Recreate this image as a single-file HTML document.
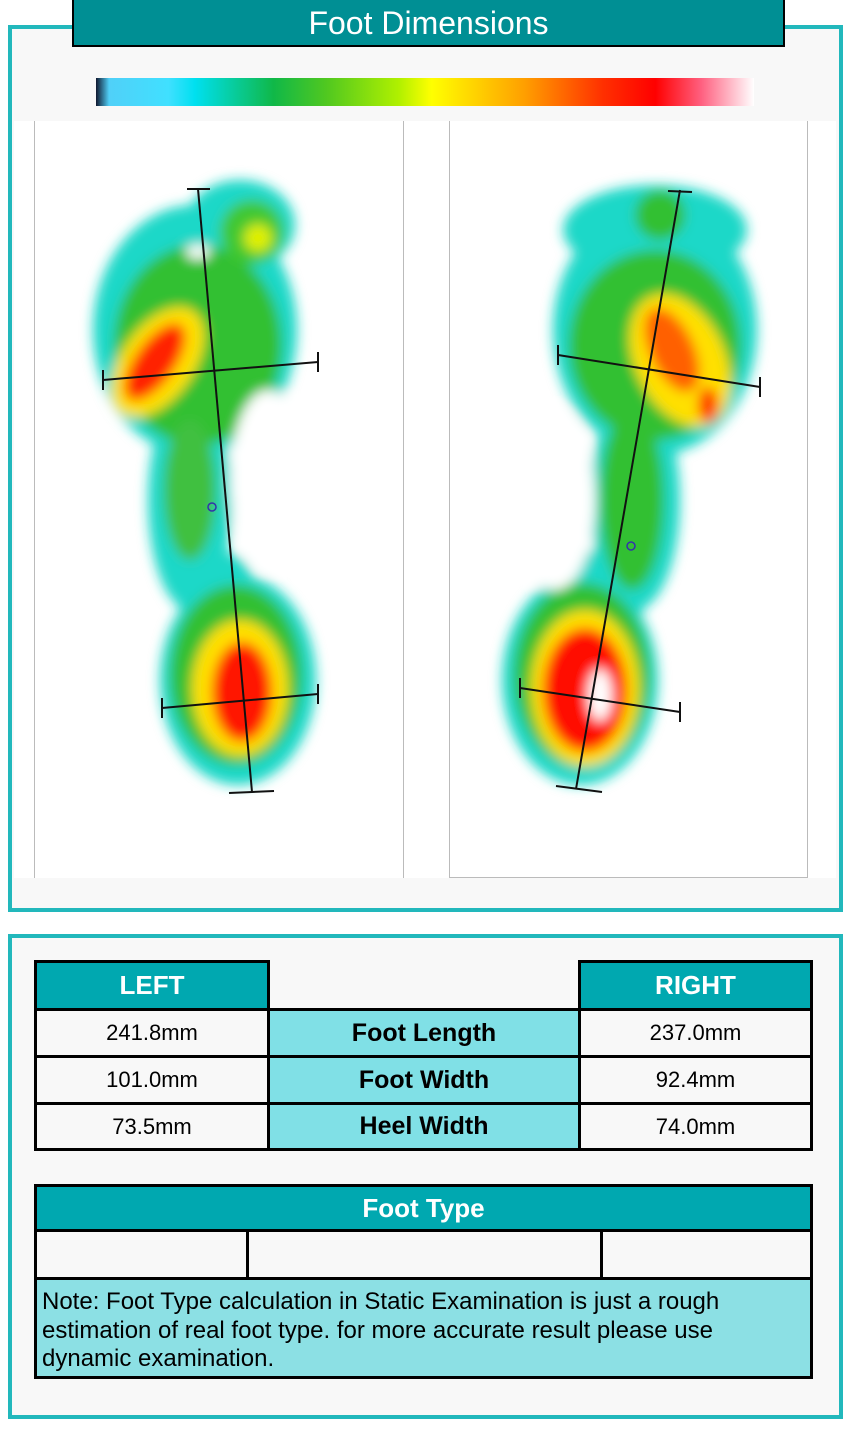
<!DOCTYPE html>
<html><head><meta charset="utf-8"><style>
body{margin:0;width:850px;height:1432px;background:#fff;position:relative;overflow:hidden;font-family:"Liberation Sans",sans-serif}
.abs{position:absolute;box-sizing:border-box}
.cell{position:absolute;box-sizing:border-box;border:3px solid #000;display:flex;align-items:center;justify-content:center;font-size:22px}
.hd{background:#00a8b0;color:#fff;font-weight:bold;font-size:26px}
.lb{background:#80e0e6;font-weight:bold;font-size:25px}
.vl{background:#f8f8f8}
</style></head><body>
<div class="abs" style="left:8px;top:25px;width:835px;height:887px;border:4px solid #22b8bc;background:#f8f8f8"></div>
<div class="abs" style="left:72px;top:-2px;width:713px;height:49px;background:#008f94;border:2px solid #000;color:#fff;font-size:32px;text-align:center;line-height:46px">Foot Dimensions</div>
<div class="abs" style="left:96px;top:78px;width:658px;height:28px;background:linear-gradient(90deg,#101830 0%,#50d0f8 2%,#40e0ff 11%,#00e0f0 15%,#10b848 27%,#50c820 35%,#b0f000 46%,#ffff00 51%,#ffa000 65%,#ff3000 77%,#ff0000 85%,#ff6080 92%,#fff 100%)"></div>
<div class="abs" style="left:14px;top:121px;width:822px;height:757px;background:#fff"></div>
<div class="abs" style="left:34px;top:121px;width:1px;height:757px;background:#bbb"></div>
<div class="abs" style="left:403px;top:121px;width:1px;height:757px;background:#bbb"></div>
<div class="abs" style="left:449px;top:121px;width:359px;height:757px;border:1px solid #bbb;border-top:none"></div>
<svg class="abs" style="left:0;top:0" width="850" height="912">
<defs><filter id="b" x="-30%" y="-30%" width="160%" height="160%"><feGaussianBlur stdDeviation="6"/></filter></defs>
<g filter="url(#b)">
<ellipse cx="195" cy="330" rx="102" ry="125" fill="#1ad8c8"/><ellipse cx="240" cy="225" rx="55" ry="45" fill="#1ad8c8"/>
<ellipse cx="190" cy="500" rx="42" ry="110" fill="#1ad8c8"/><ellipse cx="215" cy="590" rx="40" ry="40" fill="#1ad8c8"/><ellipse cx="238" cy="680" rx="78" ry="105" fill="#1ad8c8"/>
<ellipse cx="198" cy="345" rx="84" ry="100" fill="#30c030"/><ellipse cx="252" cy="232" rx="32" ry="32" fill="#40c830"/>
<ellipse cx="190" cy="490" rx="26" ry="70" fill="#40c040"/><ellipse cx="236" cy="675" rx="66" ry="90" fill="#30c030"/>
<ellipse cx="258" cy="238" rx="14" ry="14" fill="#e0f000"/>
<ellipse cx="158" cy="362" rx="36" ry="62" transform="rotate(35 158 362)" fill="#ffe000"/>
<ellipse cx="240" cy="688" rx="48" ry="68" fill="#ffe000"/>
<ellipse cx="155" cy="362" rx="20" ry="45" transform="rotate(35 155 362)" fill="#ff2000"/>
<ellipse cx="242" cy="692" rx="30" ry="50" fill="#ff1800"/>
<ellipse cx="198" cy="252" rx="12" ry="7" fill="#fff"/>
<ellipse cx="268" cy="480" rx="38" ry="90" fill="#fff"/>
</g>
<g filter="url(#b)">
<ellipse cx="655" cy="330" rx="102" ry="125" fill="#1ad8c8"/><ellipse cx="655" cy="230" rx="92" ry="45" fill="#1ad8c8"/>
<ellipse cx="635" cy="500" rx="45" ry="110" fill="#1ad8c8"/><ellipse cx="600" cy="590" rx="50" ry="40" fill="#1ad8c8"/><ellipse cx="580" cy="680" rx="78" ry="105" fill="#1ad8c8"/>
<ellipse cx="655" cy="345" rx="86" ry="95" fill="#30c030"/><ellipse cx="660" cy="215" rx="25" ry="25" fill="#30c030"/>
<ellipse cx="632" cy="500" rx="32" ry="90" fill="#30c030"/><ellipse cx="582" cy="675" rx="68" ry="92" fill="#30c030"/>
<ellipse cx="680" cy="360" rx="45" ry="70" transform="rotate(-25 680 360)" fill="#ffe000"/>
<ellipse cx="585" cy="688" rx="54" ry="78" fill="#ffe000"/>
<ellipse cx="672" cy="350" rx="22" ry="45" transform="rotate(-25 672 350)" fill="#ff6000"/>
<ellipse cx="708" cy="405" rx="10" ry="18" fill="#ff3000"/>
<ellipse cx="585" cy="690" rx="42" ry="62" fill="#ff1000"/>
<ellipse cx="600" cy="695" rx="12" ry="26" fill="#fff"/>
<ellipse cx="555" cy="500" rx="40" ry="90" fill="#fff"/>
</g>
<g stroke="#111" stroke-width="2" fill="none">
<line x1="198" y1="189" x2="252" y2="792"/><line x1="187" y1="189" x2="210" y2="189"/><line x1="229" y1="793" x2="274" y2="791"/>
<line x1="103" y1="380" x2="318" y2="362"/><line x1="103" y1="370" x2="103" y2="390"/><line x1="318" y1="352" x2="318" y2="372"/>
<line x1="162" y1="708" x2="318" y2="694"/><line x1="162" y1="698" x2="162" y2="718"/><line x1="318" y1="684" x2="318" y2="704"/>
<line x1="680" y1="190" x2="576" y2="789"/><line x1="668" y1="191" x2="692" y2="192"/><line x1="556" y1="786" x2="602" y2="792"/>
<line x1="558" y1="355" x2="760" y2="387"/><line x1="558" y1="345" x2="558" y2="365"/><line x1="760" y1="377" x2="760" y2="397"/>
<line x1="520" y1="688" x2="680" y2="712"/><line x1="520" y1="678" x2="520" y2="698"/><line x1="680" y1="702" x2="680" y2="722"/>
</g>
<circle cx="212" cy="507" r="4" fill="none" stroke="#33a" stroke-width="1.5"/><circle cx="631" cy="546" r="4" fill="none" stroke="#33a" stroke-width="1.5"/>
</svg>
<div class="abs" style="left:8px;top:934px;width:835px;height:485px;border:4px solid #22b8bc;background:#f8f8f8"></div>
<div class="cell hd" style="left:34px;top:960px;width:236px;height:51px">LEFT</div>
<div class="cell hd" style="left:578px;top:960px;width:235px;height:51px">RIGHT</div>
<div class="cell vl" style="left:34px;top:1008px;width:236px;height:50px">241.8mm</div>
<div class="cell lb" style="left:267px;top:1008px;width:314px;height:50px">Foot Length</div>
<div class="cell vl" style="left:578px;top:1008px;width:235px;height:50px">237.0mm</div>
<div class="cell vl" style="left:34px;top:1055px;width:236px;height:50px">101.0mm</div>
<div class="cell lb" style="left:267px;top:1055px;width:314px;height:50px">Foot Width</div>
<div class="cell vl" style="left:578px;top:1055px;width:235px;height:50px">92.4mm</div>
<div class="cell vl" style="left:34px;top:1102px;width:236px;height:49px">73.5mm</div>
<div class="cell lb" style="left:267px;top:1102px;width:314px;height:49px">Heel Width</div>
<div class="cell vl" style="left:578px;top:1102px;width:235px;height:49px">74.0mm</div>
<div class="cell hd" style="left:34px;top:1184px;width:779px;height:48px">Foot Type</div>
<div class="cell vl" style="left:34px;top:1229px;width:215px;height:51px"></div>
<div class="cell vl" style="left:246px;top:1229px;width:357px;height:51px"></div>
<div class="cell vl" style="left:600px;top:1229px;width:213px;height:51px"></div>
<div class="cell" style="left:34px;top:1277px;width:779px;height:102px;background:#8ce0e4;display:block;padding:8px 25px 0 5px;font-size:24px;line-height:28.5px">Note: Foot Type calculation in Static Examination is just a rough estimation of real foot type. for more accurate result please use dynamic examination.</div>
</body></html>
